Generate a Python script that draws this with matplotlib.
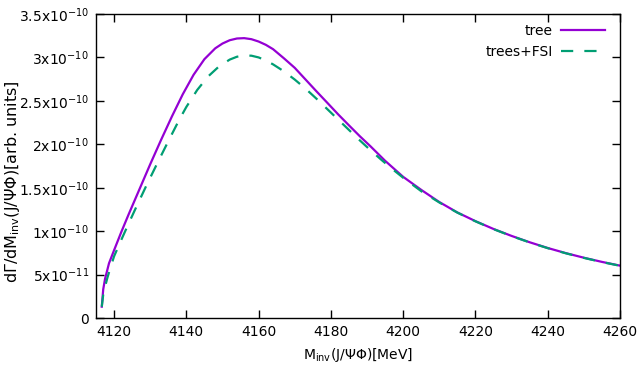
import matplotlib
matplotlib.use("Agg")
import matplotlib.pyplot as plt
from matplotlib.ticker import FixedLocator, FixedFormatter

plt.rcParams['font.family'] = ['DejaVu Sans']
plt.rcParams['mathtext.default'] = 'regular'
plt.rcParams['font.size'] = 10

# Data (x in MeV, y in units of 1e-10)
m_tree = [4116.6, 4117.0, 4117.5, 4118.6, 4120.0, 4122.0, 4124.0, 4127.0, 4130.0, 4133.0,
          4136.0, 4139.0, 4142.0, 4145.0, 4148.0, 4150.0, 4152.0, 4154.0, 4156.0, 4158.0,
          4160.0, 4162.0, 4164.0, 4167.0, 4170.0, 4173.0, 4176.0, 4179.0, 4182.0, 4185.0,
          4188.0, 4191.0, 4195.0, 4200.0, 4205.0, 4210.0, 4215.0, 4220.0, 4225.0, 4230.0,
          4235.0, 4240.0, 4245.0, 4250.0, 4255.0, 4260.0]
v_tree = [0.13, 0.33, 0.45, 0.63, 0.78, 0.99, 1.19, 1.48, 1.77, 2.05,
          2.32, 2.575, 2.80, 2.98, 3.105, 3.16, 3.198, 3.218, 3.222, 3.21,
          3.183, 3.145, 3.095, 2.99, 2.88, 2.745, 2.61, 2.478, 2.345, 2.218,
          2.093, 1.975, 1.81, 1.625, 1.475, 1.335, 1.215, 1.115, 1.025, 0.945,
          0.872, 0.806, 0.747, 0.694, 0.646, 0.603]

m_fsi = [4116.6, 4117.0, 4117.5, 4118.2, 4119.0, 4120.0, 4122.0, 4124.0, 4126.0, 4129.0,
         4132.0, 4135.0, 4138.0, 4140.0, 4143.0, 4146.0, 4149.0, 4152.0, 4154.0, 4156.0,
         4158.0, 4160.0, 4162.0, 4164.0, 4167.0, 4170.0, 4173.0, 4176.0, 4179.0, 4182.0,
         4185.0, 4188.0, 4191.0, 4194.0, 4197.0, 4200.0, 4205.0, 4210.0, 4215.0, 4220.0,
         4225.0, 4230.0, 4235.0, 4240.0, 4245.0, 4250.0, 4255.0, 4260.0]
v_fsi = [0.13, 0.27, 0.36, 0.47, 0.58, 0.71, 0.90, 1.085, 1.265, 1.53,
         1.785, 2.035, 2.28, 2.43, 2.625, 2.78, 2.895, 2.975, 3.008, 3.022,
         3.02, 3.00, 2.965, 2.92, 2.84, 2.745, 2.64, 2.525, 2.405, 2.285,
         2.165, 2.045, 1.93, 1.82, 1.715, 1.615, 1.46, 1.33, 1.213, 1.113,
         1.023, 0.943, 0.87, 0.804, 0.745, 0.692, 0.644, 0.601]

x_ticks = [4120, 4140, 4160, 4180, 4200, 4220, 4240, 4260]
y_ticks = [0, 0.5e-10, 1e-10, 1.5e-10, 2e-10, 2.5e-10, 3e-10, 3.5e-10]
y_labels = ['0', '5x10$^{-11}$', '1x10$^{-10}$', '1.5x10$^{-10}$', '2x10$^{-10}$',
            '2.5x10$^{-10}$', '3x10$^{-10}$', '3.5x10$^{-10}$']

fig = plt.figure(figsize=(6.4, 3.84), dpi=100)
ax = fig.add_axes([96/640, 1-318/384, (620-96)/640, (318-14)/384])

ax.plot(m_tree, [v*1e-10 for v in v_tree], color='#9400D3', lw=1.6, label='tree')
ax.plot(m_fsi, [v*1e-10 for v in v_fsi], color='#009E73', lw=1.6, dashes=(5.5, 5), label='trees+FSI')

ax.set_xlim(4115, 4260)
ax.set_ylim(0, 3.5e-10)
ax.xaxis.set_major_locator(FixedLocator(x_ticks))
ax.set_xticklabels([str(t) for t in x_ticks])
ax.yaxis.set_major_locator(FixedLocator(y_ticks))
ax.yaxis.set_major_formatter(FixedFormatter(y_labels))
ax.tick_params(direction='in', top=True, right=True, length=6, width=1, color='black', pad=5)
for s in ax.spines.values():
    s.set_linewidth(1.0)

ax.set_xlabel('M$_{inv}$(J/ΨΦ)[MeV]', labelpad=5)
ax.set_ylabel('dΓ/dM$_{inv}$(J/ΨΦ)[arb. units]', fontsize=11.5)
ax.yaxis.set_label_coords(-0.141, 0.45)

ax.legend(loc='upper right', bbox_to_anchor=(1 - 5/524, 1.0), frameon=False,
          markerfirst=False, handlelength=3.2, borderaxespad=0.3, labelspacing=0.55,
          handletextpad=0.6)

fig.savefig('out.png', dpi=100)
